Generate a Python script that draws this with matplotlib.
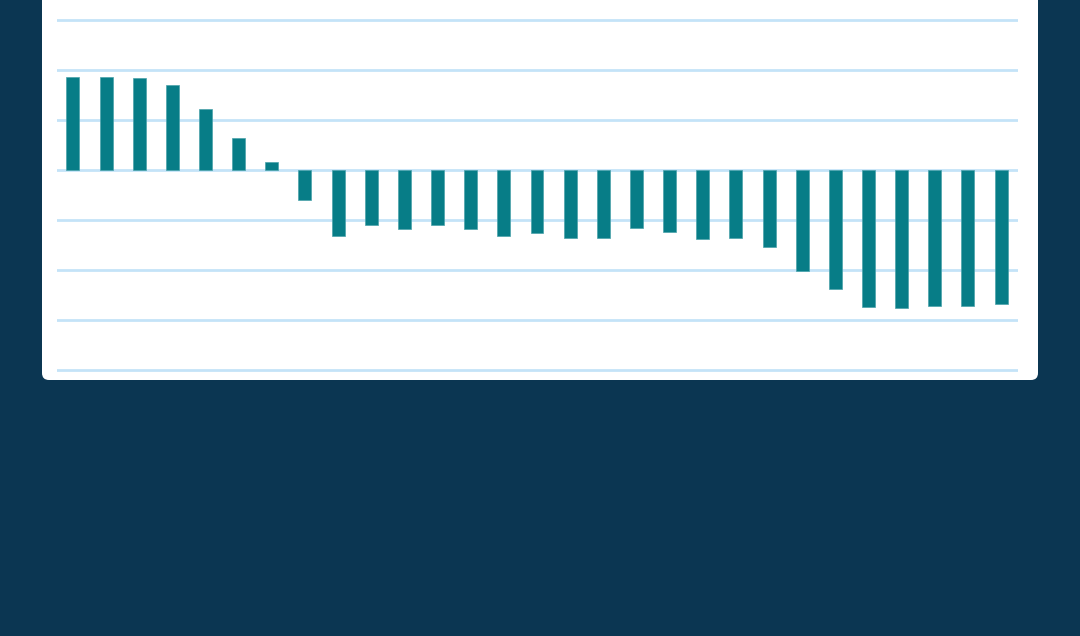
import matplotlib
matplotlib.use("Agg")
import matplotlib.pyplot as plt
import matplotlib.patches as mpatches

# valores de cada barra (una por periodo)
periods = list(range(1, 30))
values = [
    1.85, 1.86, 1.83, 1.69, 1.21, 0.64, 0.16,
    -0.61, -1.32, -1.11, -1.19, -1.11, -1.19, -1.33, -1.26,
    -1.37, -1.37, -1.17, -1.24, -1.39, -1.37, -1.54, -2.03,
    -2.39, -2.74, -2.77, -2.73, -2.72, -2.68,
]
grid_levels = [3, 2, 1, 0, -1, -2, -3, -4]

bg_color = "#0b3652"
bar_color = "#077d87"
grid_color = "#c4e3f8"

fig = plt.figure(figsize=(10.8, 6.36), dpi=100)
fig.patch.set_facecolor(bg_color)

# panel blanco con esquinas redondeadas (coordenadas en pixeles)
bg = fig.add_axes([0, 0, 1, 1])
bg.set_xlim(0, 1080)
bg.set_ylim(636, 0)
bg.axis("off")
panel = mpatches.FancyBboxPatch((42, -20), 996, 400,
                                boxstyle="round,pad=0,rounding_size=7",
                                facecolor="white", edgecolor="none")
bg.add_patch(panel)

# area del grafico
ymin, ymax = -4.06, 3.06
top_px = 19.8 - 0.06 * 50
bot_px = 369.8 + 0.06 * 50
ax = fig.add_axes([57 / 1080, (636 - bot_px) / 636, 961 / 1080, (bot_px - top_px) / 636])
ax.set_facecolor("none")

for lvl in grid_levels:
    ax.axhline(lvl, color=grid_color, linewidth=2.0, zorder=1)

x = [p - 1 for p in periods]
ax.bar(x, values, width=0.39, color=bar_color, edgecolor="#4aa3ab",
       linewidth=0.5, zorder=2)

ax.set_xlim(-0.48, 28.51)
ax.set_ylim(ymin, ymax)
ax.axis("off")

fig.savefig("out.png", dpi=100, facecolor=bg_color)
